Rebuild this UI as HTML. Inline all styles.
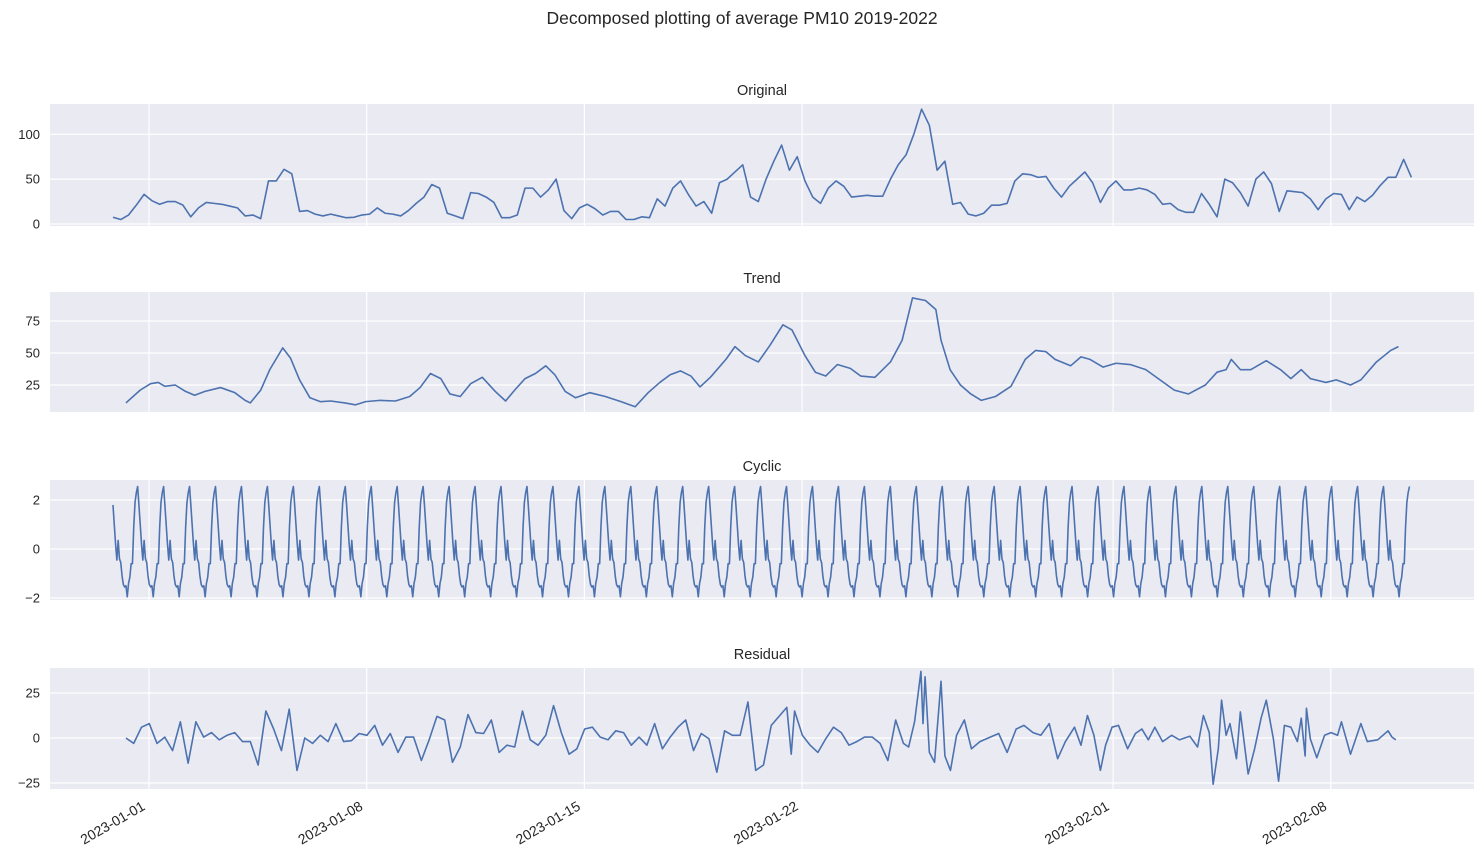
<!DOCTYPE html>
<html><head><meta charset="utf-8">
<style>
html,body{margin:0;padding:0;background:#fff;}
svg{display:block;font-family:"Liberation Sans","DejaVu Sans",sans-serif;}
</style></head>
<body>
<svg id="chart" width="1484" height="864" viewBox="0 0 1484 864" xmlns="http://www.w3.org/2000/svg">
<text x="742" y="24" text-anchor="middle" font-size="17.5" fill="#262626">Decomposed plotting of average PM10 2019-2022</text>
</svg>
<script>
// ---- data ----
const tickLabels = ["2023-01-01","2023-01-08","2023-01-15","2023-01-22","2023-02-01","2023-02-08"];
const tickDays = [0,7,14,21,31,38];
const startHourOffset = -27.8; // hours of first sample relative to 2023-01-01 00:00

const originalStep = 6;
const originalValues = [7.5,5,10,21,33,26,22,25,25,21,8,18,24,23,22,20,18,9,10,6,48,48,61,56,14,15,11,9,11,9,7,7.5,10,11,18,12,11,9,15,23,30,44,40,12,9,6,35,34,30,24,7,7,10,40,40,30,38,50,15,6,18,22,17,10,14,14,5,5,8,7,28,20,40,48,33,20,25,12,46,50,58,66,30,25,50,70,88,60,75,48,30,23,40,48,42,30,31,32,31,31,50,66,77,100,128,110,60,70,22,24,11,9,12,21,21,23,48,56,55,52,53,40,30,42,50,58,46,24,40,48,38,38,40,38,33,22,23,16,13,13,34,22,8,50,46,35,20,50,58,45,14,37,36,35,28,16,28,34,33,16,30,25,32,43,52,52,72,52];

const trendHours = [10,21,29,35,40,48,56,63,71,83,94,102,106,114,121,131,137,144,152,160,168,179,187,195,206,218,229,237,245,253,260,268,276,285,295,303,310,318,326,334,341,349,357,368,380,392,403,413,422,430,438,446,453,461,473,480,488,498,507,517,524,534,542,550,559,569,577,588,600,609,617,627,635,639,646,654,662,670,681,693,704,712,720,727,739,747,754,764,774,785,797,808,819,830,843,852,859,863,870,878,890,901,909,917,924,936,944,955,963,975,986,992];
const trendValues = [11,21,26,27,24,25,20,17,20,23,19,13,11,21,37,54,46,29,15,12,12.5,11,9.5,12,13,12.5,16,23,34,30,18,16,26,31,20,12.5,21,30,34,40,33,20,15,19,16,12,8,19,27,33,36,32,23.5,31,45,55,48,43,56,72,68,48,35,32,41,38,32,31,43,60,93,91,84,60,37,25,18,13,16,24,45,52,51,45,40,47,45,39,42,41,37,29,21,18,25,35,37,45,37,37,44,37,30,37,30,27,29,25,29,43,52,55];

const cyclePattern = [2.55,1.8,1.0,0.2,-0.45,0.35,-0.4,-0.55,-1.1,-1.45,-1.55,-1.5,-1.95,-1.4,-1.15,-0.6,-0.6,0.9,1.9,2.3];
const cycleStartIndex = 1;
const cycleLength = 1000;

const residualHours = [10,16,22,28,34,40,46,52,58,64,70,76,82,88,94,100,106,112,118,124,130,136,142,148,154,160,166,172,178,184,190,196,202,208,214,220,226,232,238,244,250,256,262,268,274,280,286,292,298,304,310,316,322,328,334,340,346,352,358,364,370,376,382,388,394,400,406,412,418,424,430,436,442,448,454,460,466,472,478,484,490,496,502,508,514,520,523.4,526,532,538,544,550,556,562,568,574,580,586,592,598,604,610,614,618.6,623.5,625.1,626.7,630,634,639,642,646.3,651,657,662.5,669,677,683.5,690,697,703,710,716,722.5,729,735,742,747,752,757,762,766,771,776,783,789,794,799,804,810,817,823,831,837,841.5,846,849,853,855.5,859,862,867,870,876,881,886,890,895.5,899.5,904,909,914,917,920,921,924,929,935,940,945,948,955,963,968,976,984,987,990];
const residualValues = [0,-3,6,8,-3,0.5,-7,9,-14,9,0.5,3,-1,1.5,3,-2,-2,-15,15,5,-7,16,-18,0,-3,1.5,-2,8,-2,-1.5,2.5,1.5,7,-4,2.5,-8,0.5,0.5,-12.5,-1,12,10,-13.5,-5,13,3,2.5,10,-8,-4,-5,15,-1,-4,1.5,18,3,-9,-6,5,6,0.5,-1,4,3,-4,0.5,-4,8,-6,0.5,6,10,-7,2.5,-0.5,-19,4,1.5,1.5,20,-18,-15,7,12,17,-9,15,1.5,-4,-8,-0.5,6,3,-4,-2,0.5,0.5,-3,-12.5,10,-3,-5,9,37,8,34,-8,-13.5,31.5,-10,-18,1.5,10,-6,-2,0.5,2.5,-8,5,7,3,1.5,8,-11.5,-2,6,-4,12.5,1.5,-18,-4,6,7,-6,2.5,5,-1,6,-2,1.5,-1,1,-5,12.5,3,-25.7,-6,21,1.5,8,-11.5,14.5,-20,-6,11,21,-0.5,-24,7,6,-2,11,-10,16.5,-0.5,-11,1.5,3,1.5,9,-9,8,-2,-1,4,0.5,-1];

// ---- layout ----
const NS = "http://www.w3.org/2000/svg";
const svg = document.getElementById("chart");
const X0 = 50, X1 = 1474;
function xOfHour(h){ return 149 + 31.1 * ((h + startHourOffset) / 24); }
function xOfDay(d){ return 149 + 31.1 * d; }

const panels = [
  {name:"original", title:"Original", top:104, bottom:226, ref:[0,224,100,134.3], ticks:[0,50,100]},
  {name:"trend", title:"Trend", top:292, bottom:412, ref:[25,385,75,321], ticks:[25,50,75]},
  {name:"cyclic", title:"Cyclic", top:480, bottom:600, ref:[-2,598,2,500], ticks:[-2,0,2]},
  {name:"residual", title:"Residual", top:668, bottom:789, ref:[-25,783,25,693], ticks:[-25,0,25]}
];

function mk(tag, attrs, parent){
  const e = document.createElementNS(NS, tag);
  for (const k in attrs) e.setAttribute(k, attrs[k]);
  (parent || svg).appendChild(e);
  return e;
}

function series(p){
  if (p.name === "original") return originalValues.map((v,i)=>[i*originalStep, v]);
  if (p.name === "trend") return trendHours.map((h,i)=>[h, trendValues[i]]);
  if (p.name === "cyclic"){
    const out = [];
    for (let i=0;i<cycleLength;i++) out.push([i*1.0015, cyclePattern[(i+cycleStartIndex)%cyclePattern.length]]);
    return out;
  }
  return residualHours.map((h,i)=>[h, residualValues[i]]);
}

panels.forEach(p=>{
  const [v0,y0,v1,y1] = p.ref;
  const yOf = v => y0 + (v - v0) * (y1 - y0) / (v1 - v0);
  const g = mk("g", {});
  
  
  const bg = mk("rect", {x:X0, y:p.top, width:X1-X0, height:p.bottom-p.top, fill:"#eaeaf2"}, g);
  
  
  tickDays.forEach(d=>{
    const gl = mk("line", {x1:xOfDay(d), x2:xOfDay(d), y1:p.top, y2:p.bottom, stroke:"#fff", "stroke-width":1.2}, g);
    
    
  });
  p.ticks.forEach(t=>{
    const y = yOf(t);
    const gl = mk("line", {x1:X0, x2:X1, y1:y, y2:y, stroke:"#fff", "stroke-width":1.2}, g);
    
    
    const tl = mk("text", {x:X0-10, y:y+4.5, "text-anchor":"end", "font-size":"13", fill:"#262626"}, g);
    tl.textContent = t < 0 ? "\u2212" + Math.abs(t) : String(t);
    
    
  });
  const tt = mk("text", {x:(X0+X1)/2, y:p.top-9, "text-anchor":"middle", "font-size":"14.5", fill:"#262626"}, g);
  tt.textContent = p.title;
  
  
  const pts = series(p).map(([h,v])=>xOfHour(h).toFixed(2)+","+yOf(v).toFixed(2)).join(" ");
  const line = mk("polyline", {points:pts, fill:"none", stroke:"#4c72b0", "stroke-width":1.6, "stroke-linejoin":"round"}, g);
  
  
});

tickDays.forEach((d,i)=>{
  const x = xOfDay(d);
  const t = mk("text", {x:0, y:0, "text-anchor":"end", "font-size":"14", fill:"#262626",
    transform:"translate("+(x-3)+",809) rotate(-30)"});
  t.textContent = tickLabels[i];
  
  
});
</script>
</body></html>
